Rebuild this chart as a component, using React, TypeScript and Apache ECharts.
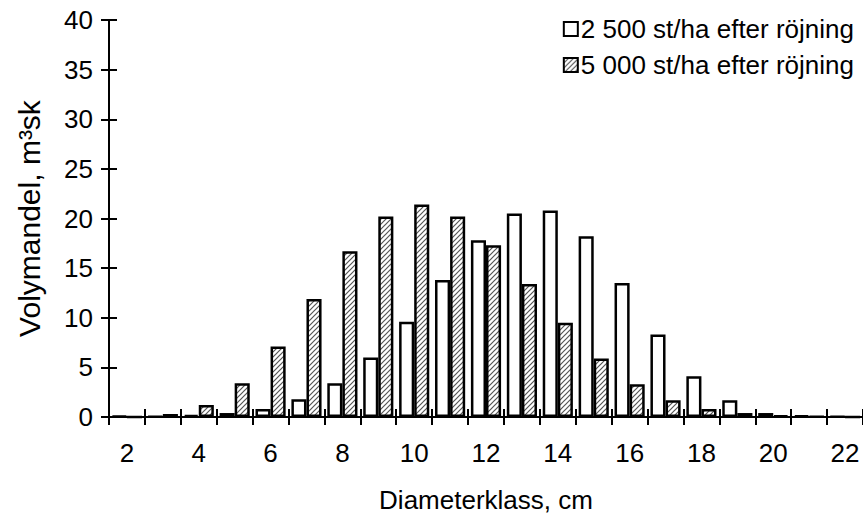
import React, { useEffect, useRef } from "react";
import * as echarts from "echarts";

const categories = ["2","3","4","5","6","7","8","9","10","11","12","13","14","15","16","17","18","19","20","21","22"];
const series2500 = [0.1, 0.05, 0.2, 0.4, 0.8, 1.8, 3.4, 6.0, 9.6, 13.8, 17.8, 20.5, 20.8, 18.2, 13.5, 8.3, 4.1, 1.7, 0.4, 0.15, 0.05];
const series5000 = [0, 0.3, 1.2, 3.4, 7.1, 11.9, 16.7, 20.2, 21.4, 20.2, 17.3, 13.4, 9.5, 5.9, 3.3, 1.7, 0.8, 0.4, 0.15, 0.05, 0];
const seriesNames = ["2 500 st/ha efter röjning", "5 000 st/ha efter röjning"];
const xAxisName = "Diameterklass, cm";
const yAxisName = "Volymandel, m³sk";

const FONT = "'Liberation Sans', Arial, sans-serif";
const FS = 26;

function makeHatch() {
  const c = document.createElement("canvas");
  c.width = 5;
  c.height = 5;
  const ctx = c.getContext("2d");
  if (ctx) {
    ctx.fillStyle = "#fff";
    ctx.fillRect(0, 0, 5, 5);
    ctx.strokeStyle = "#555";
    ctx.lineWidth = 1.2;
    ctx.beginPath();
    ctx.moveTo(-1, 6); ctx.lineTo(6, -1);
    ctx.moveTo(-4, 4); ctx.lineTo(4, -4);
    ctx.moveTo(1, 9); ctx.lineTo(9, 1);
    ctx.stroke();
  }
  return c;
}

export default function App() {
  const ref = useRef<HTMLDivElement>(null);
  useEffect(() => {
    if (!ref.current) return;
    document.body.style.margin = "0";
    document.documentElement.style.overflow = "hidden";
    const chart = echarts.init(ref.current, undefined, { renderer: "svg" });
    const hatch = makeHatch();
    const axisLineStyle = { color: "#000", width: 2 };
    chart.setOption({
      animation: false,
      backgroundColor: "#fff",
      textStyle: { fontFamily: FONT, color: "#000" },
      grid: { left: 109, width: 756, top: 20, height: 400, containLabel: false },
      legend: {
        orient: "vertical",
        right: 4,
        top: 11,
        itemWidth: 14,
        itemHeight: 14,
        itemGap: 10,
        icon: "rect",
        textStyle: { fontFamily: FONT, fontSize: FS, color: "#000", padding: [0, 0, 0, -2] },
        data: seriesNames,
      },
      xAxis: [
        {
          type: "category",
          data: categories,
          boundaryGap: true,
          name: xAxisName,
          nameLocation: "middle",
          nameGap: 70,
          nameTextStyle: { fontFamily: FONT, fontSize: FS, color: "#000" },
          axisLine: { show: true, lineStyle: axisLineStyle },
          axisTick: { show: true, interval: 0, length: 8, lineStyle: axisLineStyle },
          axisLabel: { interval: 1, margin: 23, fontFamily: FONT, fontSize: FS, color: "#000" },
          splitLine: { show: false },
        },
        {
          type: "category",
          data: categories,
          position: "bottom",
          boundaryGap: true,
          axisLine: { show: false },
          axisTick: { show: true, inside: true, interval: 0, length: 8, lineStyle: axisLineStyle },
          axisLabel: { show: false },
          splitLine: { show: false },
        },
      ],
      yAxis: [
        {
          type: "value",
          min: 0,
          max: 40,
          interval: 5,
          name: yAxisName,
          nameLocation: "middle",
          nameGap: 65,
          nameTextStyle: { fontFamily: FONT, fontSize: 30, color: "#000" },
          axisLine: { show: true, lineStyle: axisLineStyle },
          axisTick: { show: true, length: 8, lineStyle: axisLineStyle },
          axisLabel: { margin: 16, fontFamily: FONT, fontSize: FS, color: "#000" },
          splitLine: { show: false },
        },
        {
          type: "value",
          min: 0,
          max: 40,
          interval: 5,
          position: "left",
          axisLine: { show: false },
          axisTick: { show: true, inside: true, length: 8, lineStyle: axisLineStyle },
          axisLabel: { show: false },
          splitLine: { show: false },
        },
      ],
      series: [
        {
          name: seriesNames[0],
          type: "bar",
          data: series2500,
          barCategoryGap: "16%",
          barGap: "0%",
          itemStyle: { color: "#fff", borderColor: "#000", borderWidth: 2.5 },
        },
        {
          name: seriesNames[1],
          type: "bar",
          data: series5000,
          barCategoryGap: "16%",
          barGap: "0%",
          itemStyle: {
            color: { image: hatch, repeat: "repeat" },
            borderColor: "#000",
            borderWidth: 2.5,
          },
        },
      ],
    });
    return () => chart.dispose();
  }, []);
  return (
    <div
      ref={ref}
      style={{ position: "fixed", left: 0, top: 0, width: 863, height: 518 }}
    />
  );
}
